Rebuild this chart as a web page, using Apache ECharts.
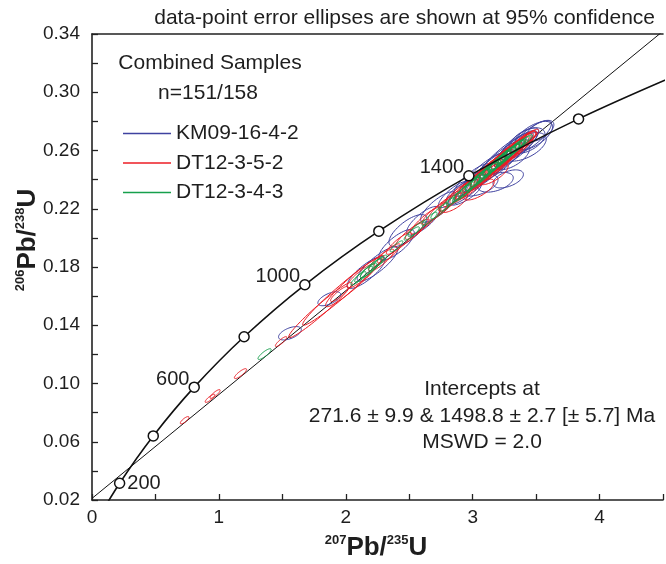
<!DOCTYPE html>
<html>
<head>
<meta charset="utf-8">
<script src="https://cdn.jsdelivr.net/npm/echarts@6/dist/echarts.min.js"></script>
<style>
html, body { margin: 0; padding: 0; background: #fff; }
#main { width: 666px; height: 564px; }
</style>
</head>
<body>
<div id="main"></div>
<script>
// concordia: age marks (Ma) and where they sit on the diagram
const concordiaAges = [0, 200, 400, 600, 800, 1000, 1200, 1400, 1600, 1800];
const concordiaX = [0, 0.2177, 0.4828, 0.8056, 1.1987, 1.6774, 2.2603, 2.9701, 3.8345, 4.8870];
const concordiaY = [0, 0.0315, 0.0640, 0.0975, 0.1321, 0.1678, 0.2046, 0.2426, 0.2817, 0.3221];
const labelledAges = [200, 600, 1000, 1400];

// discordia line (271.6 / 1498.8 Ma intercepts), run out to the frame
const discordiaX = [0, 4.6];
const discordiaY = [0.0211, 0.3491];

// error ellipses: [207Pb/235U, 206Pb/238U, 2s x, 2s y, rho]
const km09 = [
  [1.56, 0.1345, 0.090, 0.0046, 0.55],
  [1.87, 0.1582, 0.090, 0.0048, 0.6],
  [2.16, 0.1762, 0.15, 0.0110, 0.82],
  [2.25, 0.1820, 0.16, 0.0118, 0.85],
  [2.40, 0.1952, 0.14, 0.0105, 0.78],
  [2.49, 0.2050, 0.15, 0.0110, 0.72],
  [2.61, 0.2118, 0.13, 0.0098, 0.78],
  [2.73, 0.2212, 0.14, 0.0105, 0.8],
  [2.85, 0.2298, 0.12, 0.0090, 0.82],
  [2.93, 0.2312, 0.14, 0.0088, 0.68],
  [2.97, 0.2350, 0.16, 0.0120, 0.86],
  [3.00, 0.2398, 0.15, 0.0112, 0.82],
  [3.05, 0.2362, 0.15, 0.0075, 0.5],
  [3.10, 0.2452, 0.18, 0.0135, 0.85],
  [3.15, 0.2480, 0.17, 0.0128, 0.87],
  [3.18, 0.2382, 0.14, 0.0068, 0.45],
  [3.22, 0.2528, 0.19, 0.0142, 0.86],
  [3.26, 0.2565, 0.21, 0.0155, 0.88],
  [3.28, 0.2405, 0.12, 0.0062, 0.5],
  [3.31, 0.2560, 0.14, 0.0092, 0.6],
  [3.34, 0.2612, 0.17, 0.0125, 0.84],
  [3.37, 0.2645, 0.15, 0.0110, 0.78],
  [3.41, 0.2625, 0.17, 0.0098, 0.55],
  [3.43, 0.2668, 0.14, 0.0088, 0.5],
  [3.46, 0.2690, 0.16, 0.0115, 0.8],
  [3.48, 0.2702, 0.15, 0.0098, 0.62],
  [3.53, 0.2735, 0.11, 0.0072, 0.58]
];
const dt1235 = [
  [0.73, 0.0748, 0.034, 0.0025, 0.8],
  [0.93, 0.0898, 0.038, 0.0028, 0.85],
  [0.97, 0.0928, 0.040, 0.0030, 0.85],
  [1.17, 0.1068, 0.048, 0.0034, 0.85],
  [1.49, 0.1288, 0.045, 0.0034, 0.87],
  [1.80, 0.1505, 0.25, 0.0190, 0.97],
  [1.98, 0.1640, 0.32, 0.0240, 0.975],
  [2.06, 0.1695, 0.22, 0.0168, 0.95],
  [1.95, 0.1615, 0.07, 0.0052, 0.88],
  [2.12, 0.1738, 0.11, 0.0082, 0.88],
  [2.28, 0.1848, 0.10, 0.0075, 0.86],
  [2.34, 0.1893, 0.09, 0.0066, 0.85],
  [2.42, 0.1962, 0.10, 0.0075, 0.88],
  [2.50, 0.2018, 0.11, 0.0084, 0.89],
  [2.56, 0.2058, 0.09, 0.0068, 0.86],
  [2.63, 0.2118, 0.12, 0.0092, 0.89],
  [2.70, 0.2168, 0.10, 0.0076, 0.88],
  [2.76, 0.2208, 0.11, 0.0085, 0.89],
  [2.82, 0.2252, 0.09, 0.0070, 0.86],
  [2.85, 0.2242, 0.11, 0.0068, 0.72],
  [2.88, 0.2298, 0.11, 0.0085, 0.89],
  [2.93, 0.2322, 0.11, 0.0085, 0.88],
  [2.98, 0.2358, 0.12, 0.0094, 0.89],
  [3.02, 0.2388, 0.10, 0.0078, 0.87],
  [3.05, 0.2402, 0.18, 0.0140, 0.93],
  [3.05, 0.2332, 0.12, 0.0072, 0.72],
  [3.06, 0.2412, 0.13, 0.0102, 0.89],
  [3.09, 0.2438, 0.11, 0.0086, 0.88],
  [3.12, 0.2460, 0.14, 0.0110, 0.9],
  [3.14, 0.2472, 0.12, 0.0094, 0.86],
  [3.15, 0.2480, 0.10, 0.0078, 0.86],
  [3.16, 0.2440, 0.12, 0.0075, 0.7],
  [3.18, 0.2502, 0.12, 0.0094, 0.88],
  [3.20, 0.2508, 0.19, 0.0148, 0.93],
  [3.21, 0.2524, 0.11, 0.0086, 0.87],
  [3.23, 0.2535, 0.14, 0.0110, 0.88],
  [3.24, 0.2542, 0.13, 0.0102, 0.89],
  [3.27, 0.2564, 0.10, 0.0078, 0.86],
  [3.28, 0.2575, 0.13, 0.0102, 0.87],
  [3.30, 0.2587, 0.12, 0.0094, 0.88],
  [3.33, 0.2607, 0.11, 0.0086, 0.87],
  [3.35, 0.2617, 0.15, 0.0118, 0.9],
  [3.36, 0.2630, 0.10, 0.0078, 0.86],
  [3.38, 0.2640, 0.12, 0.0094, 0.86],
  [3.39, 0.2650, 0.09, 0.0070, 0.85],
  [3.42, 0.2668, 0.08, 0.0062, 0.83],
  [3.45, 0.2692, 0.07, 0.0054, 0.82]
];
const dt1234 = [
  [1.36, 0.1202, 0.052, 0.0037, 0.85],
  [2.10, 0.1722, 0.06, 0.0046, 0.88],
  [2.14, 0.1750, 0.07, 0.0054, 0.88],
  [2.18, 0.1777, 0.065, 0.0050, 0.87],
  [2.20, 0.1792, 0.085, 0.0065, 0.9],
  [2.24, 0.1820, 0.06, 0.0046, 0.87],
  [2.27, 0.1840, 0.055, 0.0042, 0.86],
  [2.40, 0.1942, 0.05, 0.0038, 0.87],
  [2.52, 0.2030, 0.06, 0.0046, 0.87],
  [2.56, 0.2064, 0.07, 0.0054, 0.89],
  [2.66, 0.2130, 0.06, 0.0046, 0.87],
  [2.74, 0.2185, 0.07, 0.0054, 0.89],
  [2.80, 0.2230, 0.06, 0.0046, 0.87],
  [2.86, 0.2272, 0.065, 0.0050, 0.88],
  [2.92, 0.2312, 0.07, 0.0054, 0.89],
  [2.95, 0.2332, 0.11, 0.0086, 0.93],
  [2.97, 0.2347, 0.085, 0.0066, 0.9],
  [3.00, 0.2370, 0.06, 0.0046, 0.87],
  [3.02, 0.2385, 0.08, 0.0062, 0.88],
  [3.04, 0.2400, 0.095, 0.0074, 0.9],
  [3.06, 0.2416, 0.07, 0.0054, 0.87],
  [3.08, 0.2430, 0.07, 0.0054, 0.89],
  [3.10, 0.2442, 0.12, 0.0094, 0.93],
  [3.11, 0.2452, 0.085, 0.0066, 0.9],
  [3.13, 0.2465, 0.07, 0.0054, 0.87],
  [3.14, 0.2472, 0.06, 0.0046, 0.87],
  [3.16, 0.2488, 0.08, 0.0062, 0.88],
  [3.17, 0.2497, 0.095, 0.0074, 0.9],
  [3.19, 0.2510, 0.07, 0.0054, 0.87],
  [3.20, 0.2518, 0.07, 0.0054, 0.89],
  [3.22, 0.2532, 0.085, 0.0066, 0.9],
  [3.24, 0.2547, 0.12, 0.0094, 0.93],
  [3.25, 0.2554, 0.06, 0.0046, 0.87],
  [3.26, 0.2562, 0.08, 0.0062, 0.88],
  [3.27, 0.2570, 0.07, 0.0054, 0.89],
  [3.29, 0.2582, 0.085, 0.0066, 0.9],
  [3.30, 0.2590, 0.07, 0.0054, 0.87],
  [3.31, 0.2597, 0.06, 0.0046, 0.87],
  [3.33, 0.2612, 0.07, 0.0054, 0.89],
  [3.34, 0.2618, 0.08, 0.0062, 0.88],
  [3.35, 0.2624, 0.06, 0.0046, 0.88],
  [3.37, 0.2640, 0.05, 0.0038, 0.87],
  [3.39, 0.2652, 0.06, 0.0046, 0.88],
  [3.42, 0.2670, 0.05, 0.0038, 0.86]
];

const sampleNames = ['KM09-16-4-2', 'DT12-3-5-2', 'DT12-3-4-3'];
const sampleColors = ['#3f42a0', '#ec1c24', '#16a04c'];

const FONT = "'Liberation Sans', Arial, sans-serif";
const TXT = '#1e1e1e';

const concordiaData = concordiaAges.map((age, i) => ({
  value: [concordiaX[i], concordiaY[i]],
  symbol: (age === 0 || age === 1800) ? 'none' : 'circle',
  label: {
    show: labelledAges.indexOf(age) >= 0,
    position: age === 200 ? 'right' : 'left',
    distance: age === 200 ? 2 : -1,
    offset: age === 200 ? [0, 0] : [0, -8],
    formatter: String(age)
  }
}));

function ellipseItem(params, api) {
  const cx = api.value(0), cy = api.value(1);
  const ex = api.value(2), ey = api.value(3), r = api.value(4);
  const k = Math.sqrt(1 - r * r);
  const pts = [];
  for (let i = 0; i < 64; i++) {
    const t = i / 64 * Math.PI * 2;
    const c = Math.cos(t), s = Math.sin(t);
    pts.push(api.coord([cx + ex * c, cy + ey * (r * c + k * s)]));
  }
  return {
    type: 'polygon',
    shape: { points: pts },
    style: { fill: 'none', stroke: api.visual('color'), lineWidth: 1 }
  };
}

const ellipseSets = [km09, dt1235, dt1234];
const ellipseSeries = ellipseSets.map((set, i) => ({
  type: 'custom',
  name: sampleNames[i],
  renderItem: ellipseItem,
  data: set,
  encode: { x: 0, y: 1 },
  itemStyle: { color: sampleColors[i] },
  clip: true,
  z: 3,
  silent: true
}));

const chart = echarts.init(document.getElementById('main'));
chart.setOption({
  animation: false,
  backgroundColor: '#fff',
  textStyle: { fontFamily: FONT },
  grid: { left: 92, right: -2, top: 34, bottom: 64 },
  legend: {
    orient: 'vertical',
    left: 118,
    top: 118,
    itemWidth: 48,
    itemHeight: 1.3,
    itemGap: 8.5,
    selectedMode: false,
    data: sampleNames.map(n => ({ name: n, icon: 'rect' })),
    textStyle: { fontSize: 21, color: TXT, fontFamily: FONT }
  },
  xAxis: [{
    type: 'value',
    min: 0,
    max: 4.5,
    interval: 0.5,
    splitLine: { show: false },
    axisLine: { lineStyle: { color: '#222', width: 1.6 } },
    axisTick: { inside: true, length: 6, lineStyle: { color: '#222', width: 1.3 } },
    axisLabel: {
      margin: 8,
      fontSize: 19,
      color: TXT,
      fontFamily: "'Liberation Sans Narrow', " + FONT,
      formatter: v => (Math.abs(v - Math.round(v)) < 1e-6 ? String(Math.round(v)) : '')
    }
  }, {
    type: 'value',
    position: 'top',
    min: 0,
    max: 4.5,
    splitLine: { show: false },
    axisLine: { show: true, lineStyle: { color: '#222', width: 1.6 } },
    axisTick: { show: false },
    axisLabel: { show: false }
  }],
  yAxis: {
    type: 'value',
    min: 0.02,
    max: 0.34,
    interval: 0.02,
    splitLine: { show: false },
    axisLine: { lineStyle: { color: '#222', width: 1.6 } },
    axisTick: { inside: true, length: 6, lineStyle: { color: '#222', width: 1.3 } },
    axisLabel: {
      margin: 12,
      fontSize: 19,
      color: TXT,
      fontFamily: "'Liberation Sans Narrow', " + FONT,
      formatter: v => (Math.round((v - 0.02) / 0.02) % 2 === 0 ? v.toFixed(2) : '')
    }
  },
  series: [{
    type: 'line',
    name: 'discordia',
    data: discordiaX.map((x, i) => [x, discordiaY[i]]),
    showSymbol: false,
    symbol: 'none',
    lineStyle: { color: '#111', width: 1 },
    clip: true,
    z: 2,
    silent: true
  }, {
    type: 'line',
    name: 'concordia',
    data: concordiaData,
    smooth: 0.35,
    clip: true,
    symbolSize: 10,
    itemStyle: { color: '#fff', borderColor: '#111', borderWidth: 1.5 },
    lineStyle: { color: '#111', width: 1.6 },
    label: { fontSize: 20, color: TXT, fontFamily: FONT },
    z: 4,
    silent: true
  }].concat(ellipseSeries),
  graphic: [{
    type: 'text',
    x: 655, y: 18,
    style: { text: 'data-point error ellipses are shown at 95% confidence', font: '21px ' + FONT, fill: TXT, align: 'right', verticalAlign: 'middle' }
  }, {
    type: 'text',
    x: 210, y: 63,
    style: { text: 'Combined Samples', font: '21px ' + FONT, fill: TXT, align: 'center', verticalAlign: 'middle' }
  }, {
    type: 'text',
    x: 208, y: 93,
    style: { text: 'n=151/158', font: '21px ' + FONT, fill: TXT, align: 'center', verticalAlign: 'middle' }
  }, {
    type: 'text',
    x: 482, y: 416,
    style: {
      text: 'Intercepts at\n271.6 \u00b1 9.9 & 1498.8 \u00b1 2.7 [\u00b1 5.7] Ma\nMSWD = 2.0',
      font: '21px ' + FONT, lineHeight: 26.5, fill: TXT, align: 'center', verticalAlign: 'middle'
    }
  }, {
    type: 'text',
    x: 28, y: 240,
    rotation: Math.PI / 2,
    style: {
      text: '{s|206}{m|Pb/}{s|238}{m|U}',
      align: 'center', verticalAlign: 'middle', fill: TXT,
      rich: {
        m: { fontSize: 26, fontWeight: 'bold', fontFamily: FONT, lineHeight: 28, fill: TXT },
        s: { fontSize: 13, fontWeight: 'bold', fontFamily: FONT, lineHeight: 14, verticalAlign: 'top', fill: TXT }
      }
    }
  }, {
    type: 'text',
    x: 376, y: 548,
    style: {
      text: '{s|207}{m|Pb/}{s|235}{m|U}',
      align: 'center', verticalAlign: 'middle', fill: TXT,
      rich: {
        m: { fontSize: 26, fontWeight: 'bold', fontFamily: FONT, lineHeight: 28, fill: TXT },
        s: { fontSize: 13, fontWeight: 'bold', fontFamily: FONT, lineHeight: 14, verticalAlign: 'top', fill: TXT }
      }
    }
  }]
});
</script>
</body>
</html>
